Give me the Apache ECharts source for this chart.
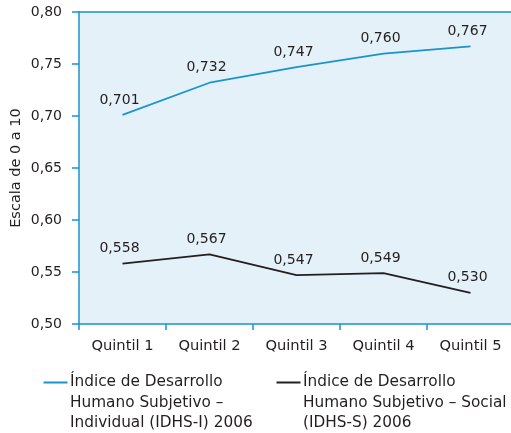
<!DOCTYPE html>
<html>
<head>
<meta charset="utf-8">
<script src="https://cdn.jsdelivr.net/npm/echarts@6/dist/echarts.min.js"></script>
<style>
html,body{margin:0;padding:0;background:#fff;}
#chart{width:511px;height:433px;}
</style>
</head>
<body>
<div id="chart"></div>
<script>
var categories = ['Quintil 1', 'Quintil 2', 'Quintil 3', 'Quintil 4', 'Quintil 5'];
var idhsI = [0.701, 0.732, 0.747, 0.760, 0.767];
var idhsS = [0.558, 0.567, 0.547, 0.549, 0.530];
var seriesNames = ['Índice de Desarrollo\nHumano Subjetivo –\nIndividual (IDHS-I) 2006', 'Índice de Desarrollo\nHumano Subjetivo – Social\n(IDHS-S) 2006'];

var blue = '#1a93cf';
var ink = '#231f20';
var font = 'DejaVu Sans';

function fmt(v) {
	return v.toFixed(3).replace('.', ',');
}

var chart = echarts.init(document.getElementById('chart'));
var option = {
	animation: false,
	textStyle: { fontFamily: font },
	grid: {
		left: 79, right: -3, top: 12, bottom: 109,
		outerBoundsMode: 'none',
		containLabel: false,
		show: true, backgroundColor: '#e4f1f8', borderWidth: 0
	},
	xAxis: [{
		type: 'category',
		data: categories,
		boundaryGap: true,
		axisLine: { lineStyle: { color: blue, width: 1.5 } },
		axisTick: { show: true, length: 6, lineStyle: { color: blue, width: 1.5 } },
		axisLabel: { color: ink, fontSize: 14.7, margin: 15, fontFamily: font }
	}, {
		type: 'category',
		position: 'top',
		data: categories,
		axisLine: { lineStyle: { color: blue, width: 1.5 } },
		axisTick: { show: false },
		axisLabel: { show: false }
	}],
	yAxis: {
		type: 'value',
		min: 0.5, max: 0.8, interval: 0.05,
		name: 'Escala de 0 a 10',
		nameLocation: 'middle',
		nameGap: 55,
		nameMoveOverlap: false,
		nameTextStyle: { color: ink, fontSize: 14.5, fontFamily: font },
		axisLine: { show: true, lineStyle: { color: blue, width: 1.5 } },
		axisTick: { show: true, length: 7, lineStyle: { color: blue, width: 1.5 } },
		splitLine: { show: false },
		axisLabel: {
			color: ink, fontSize: 14, margin: 17, fontFamily: font,
			formatter: function(v) { return v.toFixed(2).replace('.', ','); }
		}
	},
	series: [{
		name: seriesNames[0],
		type: 'line',
		data: idhsI,
		symbol: 'circle',
		symbolSize: 0,
		lineStyle: { color: blue, width: 1.8 },
		itemStyle: { color: blue },
		label: {
			show: true, position: 'top', distance: 8, offset: [-3, 0],
			color: ink, fontSize: 14, fontFamily: font,
			formatter: function(p) { return fmt(p.value); }
		}
	}, {
		name: seriesNames[1],
		type: 'line',
		data: idhsS,
		symbol: 'circle',
		symbolSize: 0,
		lineStyle: { color: ink, width: 1.8 },
		itemStyle: { color: ink },
		label: {
			show: true, position: 'top', distance: 8, offset: [-3, 0],
			color: ink, fontSize: 14, fontFamily: font,
			formatter: function(p) { return fmt(p.value); }
		}
	}],
	graphic: [{
		type: 'line', left: 41, top: 380,
		shape: { x1: 0, y1: 0, x2: 24, y2: 0 },
		style: { stroke: blue, lineWidth: 2 }
	}, {
		type: 'text', left: 70, top: 372,
		style: { text: seriesNames[0], fill: ink, fontSize: 15.3, lineHeight: 20.5, fontFamily: font }
	}, {
		type: 'line', left: 274, top: 380,
		shape: { x1: 0, y1: 0, x2: 24, y2: 0 },
		style: { stroke: ink, lineWidth: 2 }
	}, {
		type: 'text', left: 303, top: 372,
		style: { text: seriesNames[1], fill: ink, fontSize: 15.3, lineHeight: 20.5, fontFamily: font }
	}]
};
chart.setOption(option);
</script>
</body>
</html>
